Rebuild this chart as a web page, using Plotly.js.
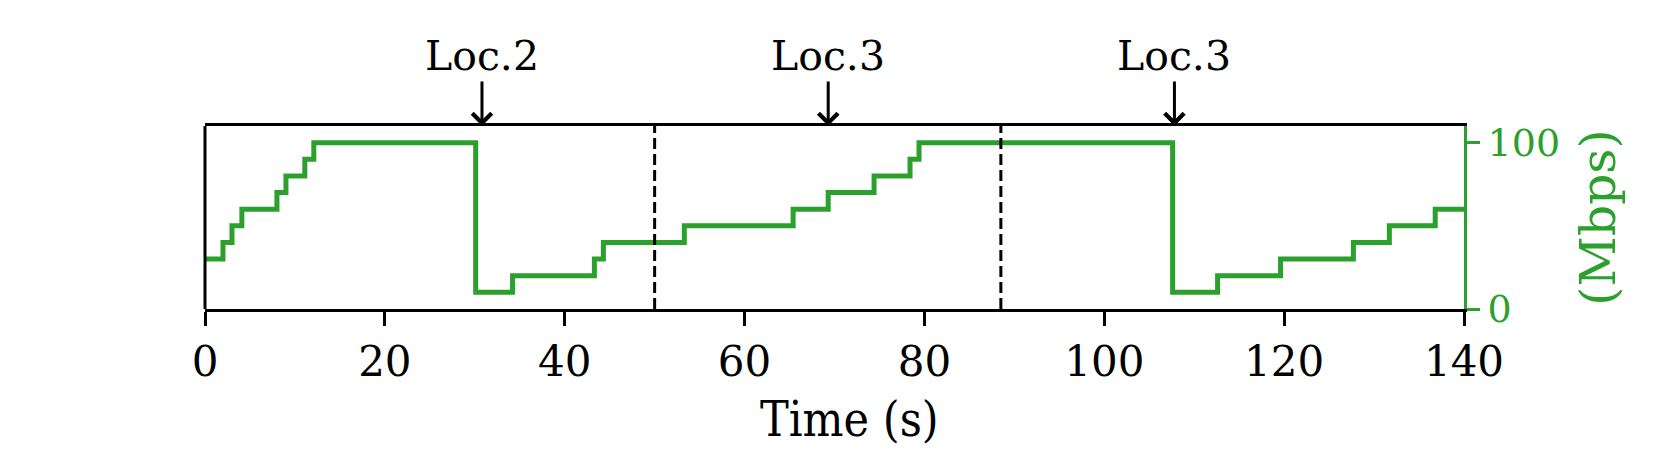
<!DOCTYPE html>
<html>
<head>
<meta charset="utf-8">
<script src="https://cdn.plot.ly/plotly-3.0.1.min.js"></script>
<style>
  html, body { margin: 0; padding: 0; background: #fff; }
  #chart { width: 1659px; height: 474px; }
</style>
</head>
<body>
<div id="chart"></div>
<script>
// Step changes of the link rate (time in s, rate in Mbps, held until next change)
const stepTimes = [0, 2, 3, 4.1, 8, 9, 11.1, 12.1, 30.1, 34.2, 43.3, 44.3, 53.3, 65.4, 69.3, 74.4, 78.4, 79.4, 107.6, 112.6, 119.6, 127.7, 131.7, 136.8, 140];
const rates     = [30, 40, 50, 60, 70, 80, 90, 100, 10, 20, 30, 40, 50, 60, 70, 80, 90, 100, 10, 20, 30, 40, 50, 60, 60];

// Location markers above the plot
const locTimes  = [30.8, 69.3, 107.8];
const locLabels = ['Loc.2', 'Loc.3', 'Loc.3'];

// Dashed separators
const switchTimes = [50, 88.5];

const xTicks = [0, 20, 40, 60, 80, 100, 120, 140];
const yTicks = [0, 100];

const green = '#2ca02c';
const serif = 'DejaVu Serif, serif';
const serifNarrow = 'DejaVu Serif Condensed, DejaVu Serif, serif';

const rateTrace = {
    x: stepTimes,
    y: rates,
    type: 'scatter',
    mode: 'lines',
    line: { color: green, width: 5, shape: 'hv' },
    hoverinfo: 'skip',
    showlegend: false
};

// Vertical dashed lines
const shapes = switchTimes.map(t => ({
    type: 'line',
    xref: 'x', yref: 'paper',
    x0: t, x1: t, y0: 0, y1: 1,
    line: { color: 'black', width: 3, dash: '11px,5px' },
    layer: 'above'
}));

// Left spine (black)
shapes.push({
    type: 'line',
    xref: 'paper', yref: 'paper',
    x0: 0, x1: 0, y0: 0, y1: 1,
    line: { color: 'black', width: 3 },
    layer: 'above'
});

// Arrows with labels
const annotations = locTimes.map((t, i) => ({
    x: t, y: 1,
    xref: 'x', yref: 'paper',
    text: locLabels[i],
    showarrow: true,
    ax: 0, ay: -70,
    arrowhead: 4,
    arrowsize: 1.25,
    arrowwidth: 3,
    arrowcolor: 'black',
    standoff: 0,
    font: { family: serif, size: 41, color: 'black' }
}));

// x axis title
annotations.push({
    x: 0.5, y: 0,
    xref: 'paper', yref: 'paper',
    xanchor: 'center', yanchor: 'middle',
    xshift: 15, yshift: -110,
    showarrow: false,
    text: 'Time (s)',
    font: { family: serifNarrow, size: 48, color: 'black' }
});

const layout = {
    width: 1659,
    height: 474,
    margin: { l: 205, r: 195, t: 126, b: 165 },
    paper_bgcolor: 'white',
    plot_bgcolor: 'white',
    showlegend: false,
    font: { family: serif, color: 'black' },
    xaxis: {
        range: [0, 140],
        tickvals: xTicks,
        ticks: 'outside',
        ticklen: 14,
        tickwidth: 3,
        tickcolor: 'black',
        tickfont: { family: serif, size: 42, color: 'black' },
        showline: true,
        linecolor: 'black',
        linewidth: 3,
        mirror: true,
        showgrid: false,
        zeroline: false
    },
    yaxis: {
        side: 'right',
        range: [0, 110],
        tickvals: yTicks,
        ticks: 'outside',
        ticklen: 13,
        tickwidth: 3,
        tickcolor: green,
        tickfont: { family: serif, size: 38, color: green },
        showline: true,
        linecolor: green,
        linewidth: 3,
        showgrid: false,
        zeroline: false,
        title: { text: '(Mbps)', font: { family: serif, size: 49, color: green }, standoff: 22 }
    },
    shapes: shapes,
    annotations: annotations
};

Plotly.newPlot('chart', [rateTrace], layout, { staticPlot: true, displayModeBar: false });
</script>
</body>
</html>
